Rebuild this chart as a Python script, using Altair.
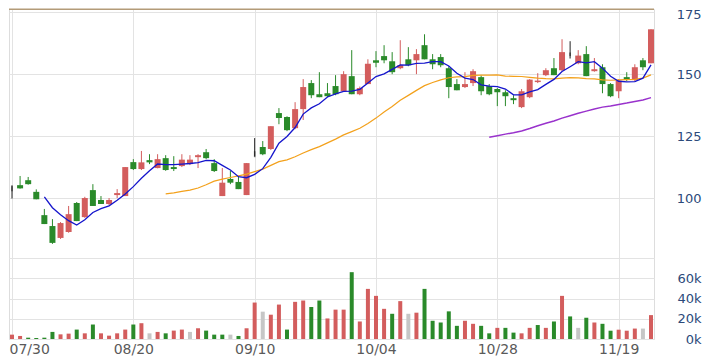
import altair as alt
import pandas as pd
import numpy as np

# ---- data ----
tick_index = [0, 15, 30, 45, 60, 75]
tick_labels = ["07/30", "08/20", "09/10", "10/04", "10/28", "11/19"]

opens = [104.0, 105.2, 107.2, 102.5, 93.1, 88.7, 83.9, 86.3, 98.0, 92.3,
         103.2, 99.2, 97.6, 101.2, 100.8, 114.5, 111.7, 115.3, 112.1, 116.1,
         112.5, 112.9, 113.7, 116.5, 118.5, 114.1, 100.8, 107.7, 106.5, 101.2,
         117.7, 120.6, 119.8, 134.3, 132.7, 128.2, 135.9, 146.4, 141.9, 142.3,
         145.2, 143.1, 149.2, 141.9, 146.0, 155.6, 157.3, 155.2, 152.4, 156.0,
         155.6, 161.7, 156.0, 156.9, 152.4, 146.0, 144.8, 146.4, 148.8, 145.2,
         144.0, 142.7, 140.3, 136.7, 140.7, 146.8, 149.6, 152.4, 151.6, 157.5,
         154.4, 158.1, 151.2, 152.8, 146.0, 143.1, 148.8, 147.6, 155.6, 154.4]
highs = [104.8, 108.9, 108.5, 103.5, 95.6, 91.5, 90.3, 96.8, 98.4, 100.5,
         105.6, 100.8, 100.0, 103.6, 112.5, 115.7, 119.0, 117.7, 117.7, 117.3,
         116.9, 117.7, 117.3, 117.7, 119.8, 115.7, 112.1, 110.9, 108.9, 114.1,
         124.2, 123.0, 129.0, 136.3, 133.0, 138.7, 148.0, 147.6, 150.8, 146.4,
         149.6, 151.2, 159.7, 145.0, 156.0, 159.3, 161.7, 158.9, 163.7, 160.9,
         160.1, 166.1, 158.1, 158.1, 153.2, 148.0, 150.8, 152.0, 149.5, 146.0,
         144.4, 143.5, 141.5, 144.0, 148.0, 150.4, 152.4, 156.5, 164.1, 163.3,
         159.7, 161.3, 156.5, 154.0, 146.4, 148.0, 150.8, 154.0, 156.5, 168.1]
lows = [99.8, 103.8, 105.4, 99.5, 89.5, 81.5, 83.5, 86.0, 90.7, 92.0,
        96.8, 97.6, 97.0, 100.0, 100.8, 111.3, 111.3, 113.7, 112.0, 111.0,
        110.9, 112.5, 113.3, 112.1, 115.7, 110.5, 100.8, 105.6, 103.6, 101.2,
        116.9, 117.3, 119.4, 129.8, 127.0, 127.8, 131.5, 140.3, 140.7, 140.7,
        141.5, 143.0, 141.9, 141.5, 146.0, 152.8, 154.4, 150.0, 152.0, 153.2,
        150.0, 156.0, 152.0, 152.8, 140.3, 143.5, 144.4, 145.2, 141.5, 141.5,
        137.1, 137.1, 137.9, 136.3, 140.3, 146.4, 149.2, 149.6, 151.2, 157.3,
        154.0, 149.2, 151.0, 142.3, 140.7, 140.3, 147.2, 147.2, 151.6, 154.4]
closes = [104.0, 103.9, 105.6, 99.5, 89.5, 81.9, 89.9, 93.5, 90.7, 100.0,
          96.8, 97.6, 99.2, 102.0, 112.5, 111.7, 114.4, 114.4, 115.7, 111.3,
          111.7, 115.5, 115.5, 117.3, 116.1, 110.9, 106.2, 106.2, 103.6, 114.1,
          117.7, 117.7, 129.0, 132.3, 127.4, 135.9, 144.8, 141.5, 140.7, 141.1,
          141.9, 150.0, 141.9, 144.4, 154.2, 154.6, 155.6, 150.8, 153.6, 153.6,
          158.1, 156.0, 154.0, 153.6, 144.8, 143.5, 146.0, 151.2, 143.1, 141.9,
          142.7, 141.1, 139.5, 143.1, 147.8, 147.4, 151.6, 149.6, 158.9, 157.5,
          157.5, 149.2, 152.0, 146.0, 141.1, 147.4, 147.8, 152.8, 152.8, 168.1]
volumes_k = [4.3, 3.0, 1.3, 1.0, 1.3, 7.0, 4.6, 5.3, 9.3, 5.6,
             14.3, 5.6, 3.3, 5.6, 9.3, 14.3, 15.6, 5.6, 7.0, 5.6,
             8.3, 9.3, 7.0, 10.6, 8.3, 4.3, 4.3, 4.3, 3.0, 10.6,
             36.0, 27.0, 24.0, 34.0, 9.3, 36.7, 38.0, 31.6, 38.0, 20.3,
             29.0, 29.0, 66.0, 17.3, 49.5, 42.6, 29.8, 24.9, 37.4, 24.9,
             26.0, 49.5, 18.0, 16.3, 27.3, 13.0, 18.0, 15.0, 13.0, 5.6,
             11.0, 11.0, 6.3, 5.6, 11.0, 13.8, 11.0, 17.3, 42.6, 22.3,
             11.0, 21.0, 16.3, 15.0, 8.2, 9.2, 8.2, 10.3, 10.3, 23.6]
# volume bar colour per day: u = up, d = down, f = unchanged
volume_dir = list("uudddduudu"
                  "duuuudufud"
                  "uufudddfdu"
                  "ufuuduuddu"
                  "uuduuuuduf"
                  "uddddduudd"
                  "udduududud"
                  "fdudduuufu")
ceiling_price = 176.2

# ---- styling ----
RED, GREEN, BLACK, GRAY = "#d35d5d", "#2a8a2a", "#222222", "#c6c6c6"
GRID = "#e3e3e3"
FONT = "DejaVu Sans"

n = len(closes)
df = pd.DataFrame({"i": np.arange(n), "open": opens, "high": highs,
                   "low": lows, "close": closes})
df["dir"] = np.where(df.close > df.open, "up",
                     np.where(df.close < df.open, "down", "flat"))
df["volume"] = np.array(volumes_k) * 1000
df["vdir"] = [{"u": "up", "d": "down", "f": "flat"}[c] for c in volume_dir]
df["ma5"] = df.close.rolling(5).mean()
df["ma20"] = df.close.rolling(20).mean()
df["ma60"] = df.close.rolling(60).mean()

label_expr = " : ".join(
    f"datum.value == {v} ? '{t}'" for v, t in zip(tick_index, tick_labels)
) + " : ''"

xscale = alt.Scale(domain=[-0.371, 79.37], nice=False, zero=False, padding=0)
pscale = alt.Scale(domain=[75.8, 176.3], nice=False, zero=False, padding=0)

x_top = alt.X("i:Q", scale=xscale,
              axis=alt.Axis(values=tick_index, labels=False, ticks=False,
                            domain=False, grid=True, gridColor=GRID, title=None))
price_axis = alt.Axis(orient="right", values=[100, 125, 150, 175], grid=True,
                      gridColor=GRID, ticks=False, tickSize=0, domain=False,
                      labelAlign="right", labelPadding=47, labelFont=FONT,
                      labelFontSize=13, labelColor="#2c4a7a", title=None,
                      labelBaseline={"condition": {"test": "datum.value >= 175",
                                                   "value": "top"},
                                     "value": "middle"},
                      labelOffset={"condition": {"test": "datum.value >= 175",
                                                 "value": -4},
                                   "value": 0})
dir_color = alt.Color("dir:N", scale=alt.Scale(domain=["up", "down", "flat"],
                                               range=[RED, GREEN, BLACK]),
                      legend=None)

base = alt.Chart(df)

ceiling = alt.Chart(pd.DataFrame({"p": [ceiling_price]})).mark_rule(
    color="#b39b78", strokeWidth=1.5).encode(
    y=alt.Y("p:Q", scale=pscale, axis=price_axis))

wicks = base.mark_rule(strokeWidth=1).encode(
    x=x_top, y=alt.Y("low:Q", scale=pscale, axis=price_axis), y2="high:Q",
    color=dir_color)

bodies = base.mark_bar(size=6).encode(
    x=x_top, y=alt.Y("open:Q", scale=pscale, axis=price_axis), y2="close:Q",
    color=dir_color)

doji = base.transform_filter("datum.dir == 'flat'").mark_tick(
    size=6, thickness=1.5, color=BLACK).encode(
    x=x_top, y=alt.Y("close:Q", scale=pscale, axis=price_axis))


def ma_line(field, color, width):
    return base.transform_filter(f"isValid(datum.{field})").mark_line(
        color=color, strokeWidth=width).encode(
        x=x_top, y=alt.Y(f"{field}:Q", scale=pscale, axis=price_axis))


price = alt.layer(
    ceiling, wicks, bodies, doji,
    ma_line("ma60", "#9932cc", 1.5),
    ma_line("ma20", "#f3a11c", 1.2),
    ma_line("ma5", "#1515cc", 1.3),
).properties(width=645, height=249)

vol = base.mark_bar(size=4).encode(
    x=alt.X("i:Q", scale=xscale,
            axis=alt.Axis(values=tick_index, labelExpr=label_expr, grid=True,
                          gridColor=GRID, ticks=False, tickSize=0, domain=False,
                          labelFlush=False,
                          labelAlign={"condition": {"test": "datum.value == 0",
                                                    "value": "left"},
                                      "value": "center"},
                          labelOffset={"condition": {"test": "datum.value == 0",
                                                     "value": -3},
                                       "value": 0},
                          labelFont=FONT, labelFontSize=14,
                          labelColor="#5a5a5a", labelPadding=3, title=None)),
    y=alt.Y("volume:Q", scale=alt.Scale(domain=[0, 80000], nice=False, padding=0),
            axis=alt.Axis(orient="right", values=[0, 20000, 40000, 60000, 80000],
                          labelExpr="datum.value >= 80000 ? '' : (datum.value / 1000) + 'k'",
                          grid=True, gridColor=GRID, ticks=False, tickSize=0,
                          domain=False, labelAlign="right", labelPadding=47,
                          labelFont=FONT, labelFontSize=13, labelColor="#2c4a7a",
                          title=None)),
    color=alt.Color("vdir:N", scale=alt.Scale(domain=["up", "down", "flat"],
                                              range=[RED, GREEN, GRAY]),
                    legend=None),
).properties(width=645, height=81)

chart = alt.vconcat(price, vol, spacing=0, bounds="flush").resolve_scale(
    color="independent", x="independent", y="independent"
).properties(
    padding={"left": -1, "top": -1, "right": 0, "bottom": 0}
).configure_view(stroke=None).configure(background="white")

chart.save("out.html", embed_options={"renderer": "svg", "actions": False})
